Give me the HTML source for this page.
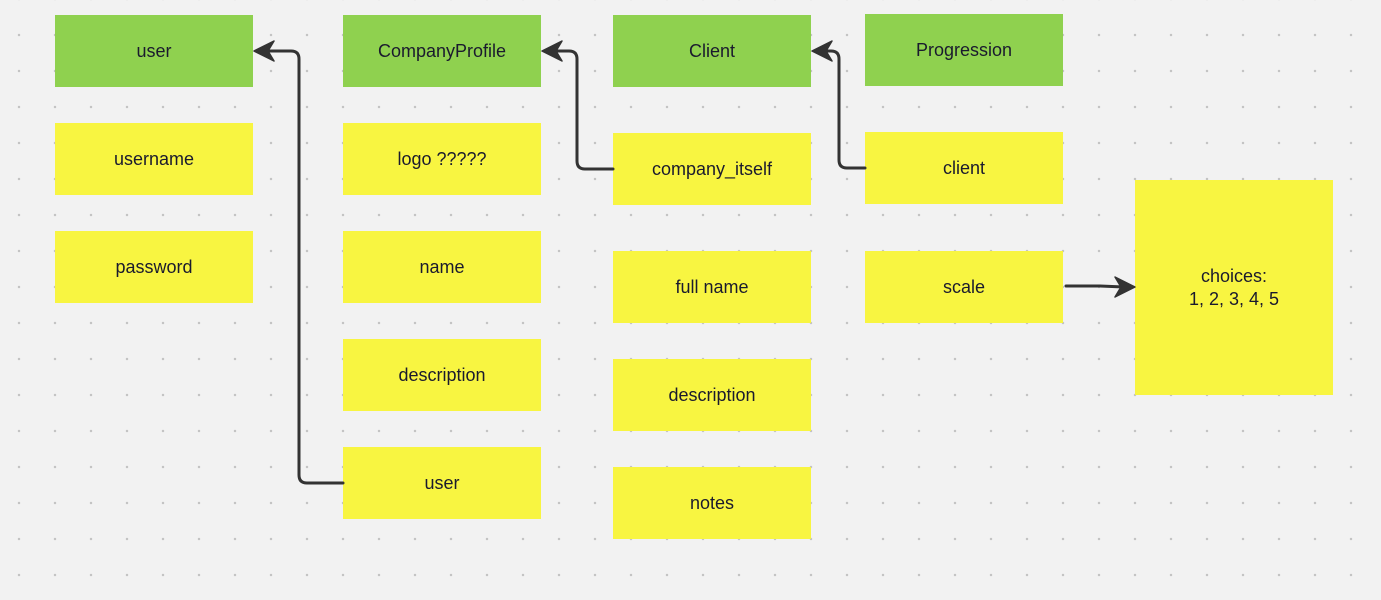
<!DOCTYPE html>
<html><head><style>
body{margin:0;width:1381px;height:600px;overflow:hidden;background:#f2f2f2;
background-image:radial-gradient(circle,#c4c4c4 1.1px,transparent 1.4px);background-size:36px 36px;background-position:1px 17px;
font-family:"Liberation Sans",sans-serif;position:relative}
.b{position:absolute;width:198px;height:72px;display:flex;align-items:center;justify-content:center;font-size:18px;color:#1a1a2e;background:#f8f541;text-align:center;line-height:23px}
.g{background:#8fd14f}
svg{position:absolute;left:0;top:0}
</style></head><body>
<div class="b g" style="left:55px;top:15px">user</div>
<div class="b" style="left:55px;top:123px">username</div>
<div class="b" style="left:55px;top:231px">password</div>
<div class="b g" style="left:343px;top:15px">CompanyProfile</div>
<div class="b" style="left:343px;top:123px">logo ?????</div>
<div class="b" style="left:343px;top:231px">name</div>
<div class="b" style="left:343px;top:339px">description</div>
<div class="b" style="left:343px;top:447px">user</div>
<div class="b g" style="left:613px;top:15px">Client</div>
<div class="b" style="left:613px;top:133px">company_itself</div>
<div class="b" style="left:613px;top:251px">full name</div>
<div class="b" style="left:613px;top:359px">description</div>
<div class="b" style="left:613px;top:467px">notes</div>
<div class="b g" style="left:865px;top:14px">Progression</div>
<div class="b" style="left:865px;top:132px">client</div>
<div class="b" style="left:865px;top:251px">scale</div>
<div class="b" style="left:1135px;top:180px;height:215px;align-items:flex-start;padding-top:85px;box-sizing:border-box">choices:<br>1, 2, 3, 4, 5</div>
<svg width="1381" height="600">
<g fill="none" stroke="#333" stroke-width="3" stroke-linecap="round" stroke-linejoin="round">
<path d="M343 483H307q-8 0-8-8V59q0-8-8-8H266"/>
<path d="M613 169H585q-8 0-8-8V59q0-8-8-8H554"/>
<path d="M865 168H847q-8 0-8-8V59q0-8-8-8H824"/>
<path d="M1066 286H1100L1124 287"/>
</g>
<g fill="#333" stroke="#333" stroke-width="1.5" stroke-linejoin="round">
<path d="M274 41L254 51L274 61L268 51Z"/>
<path d="M562 41L542 51L562 61L556 51Z"/>
<path d="M832 41L812 51L832 61L826 51Z"/>
<path d="M1115 277L1135 287L1115 297L1121 287Z"/>
</g>
</svg>
</body></html>
